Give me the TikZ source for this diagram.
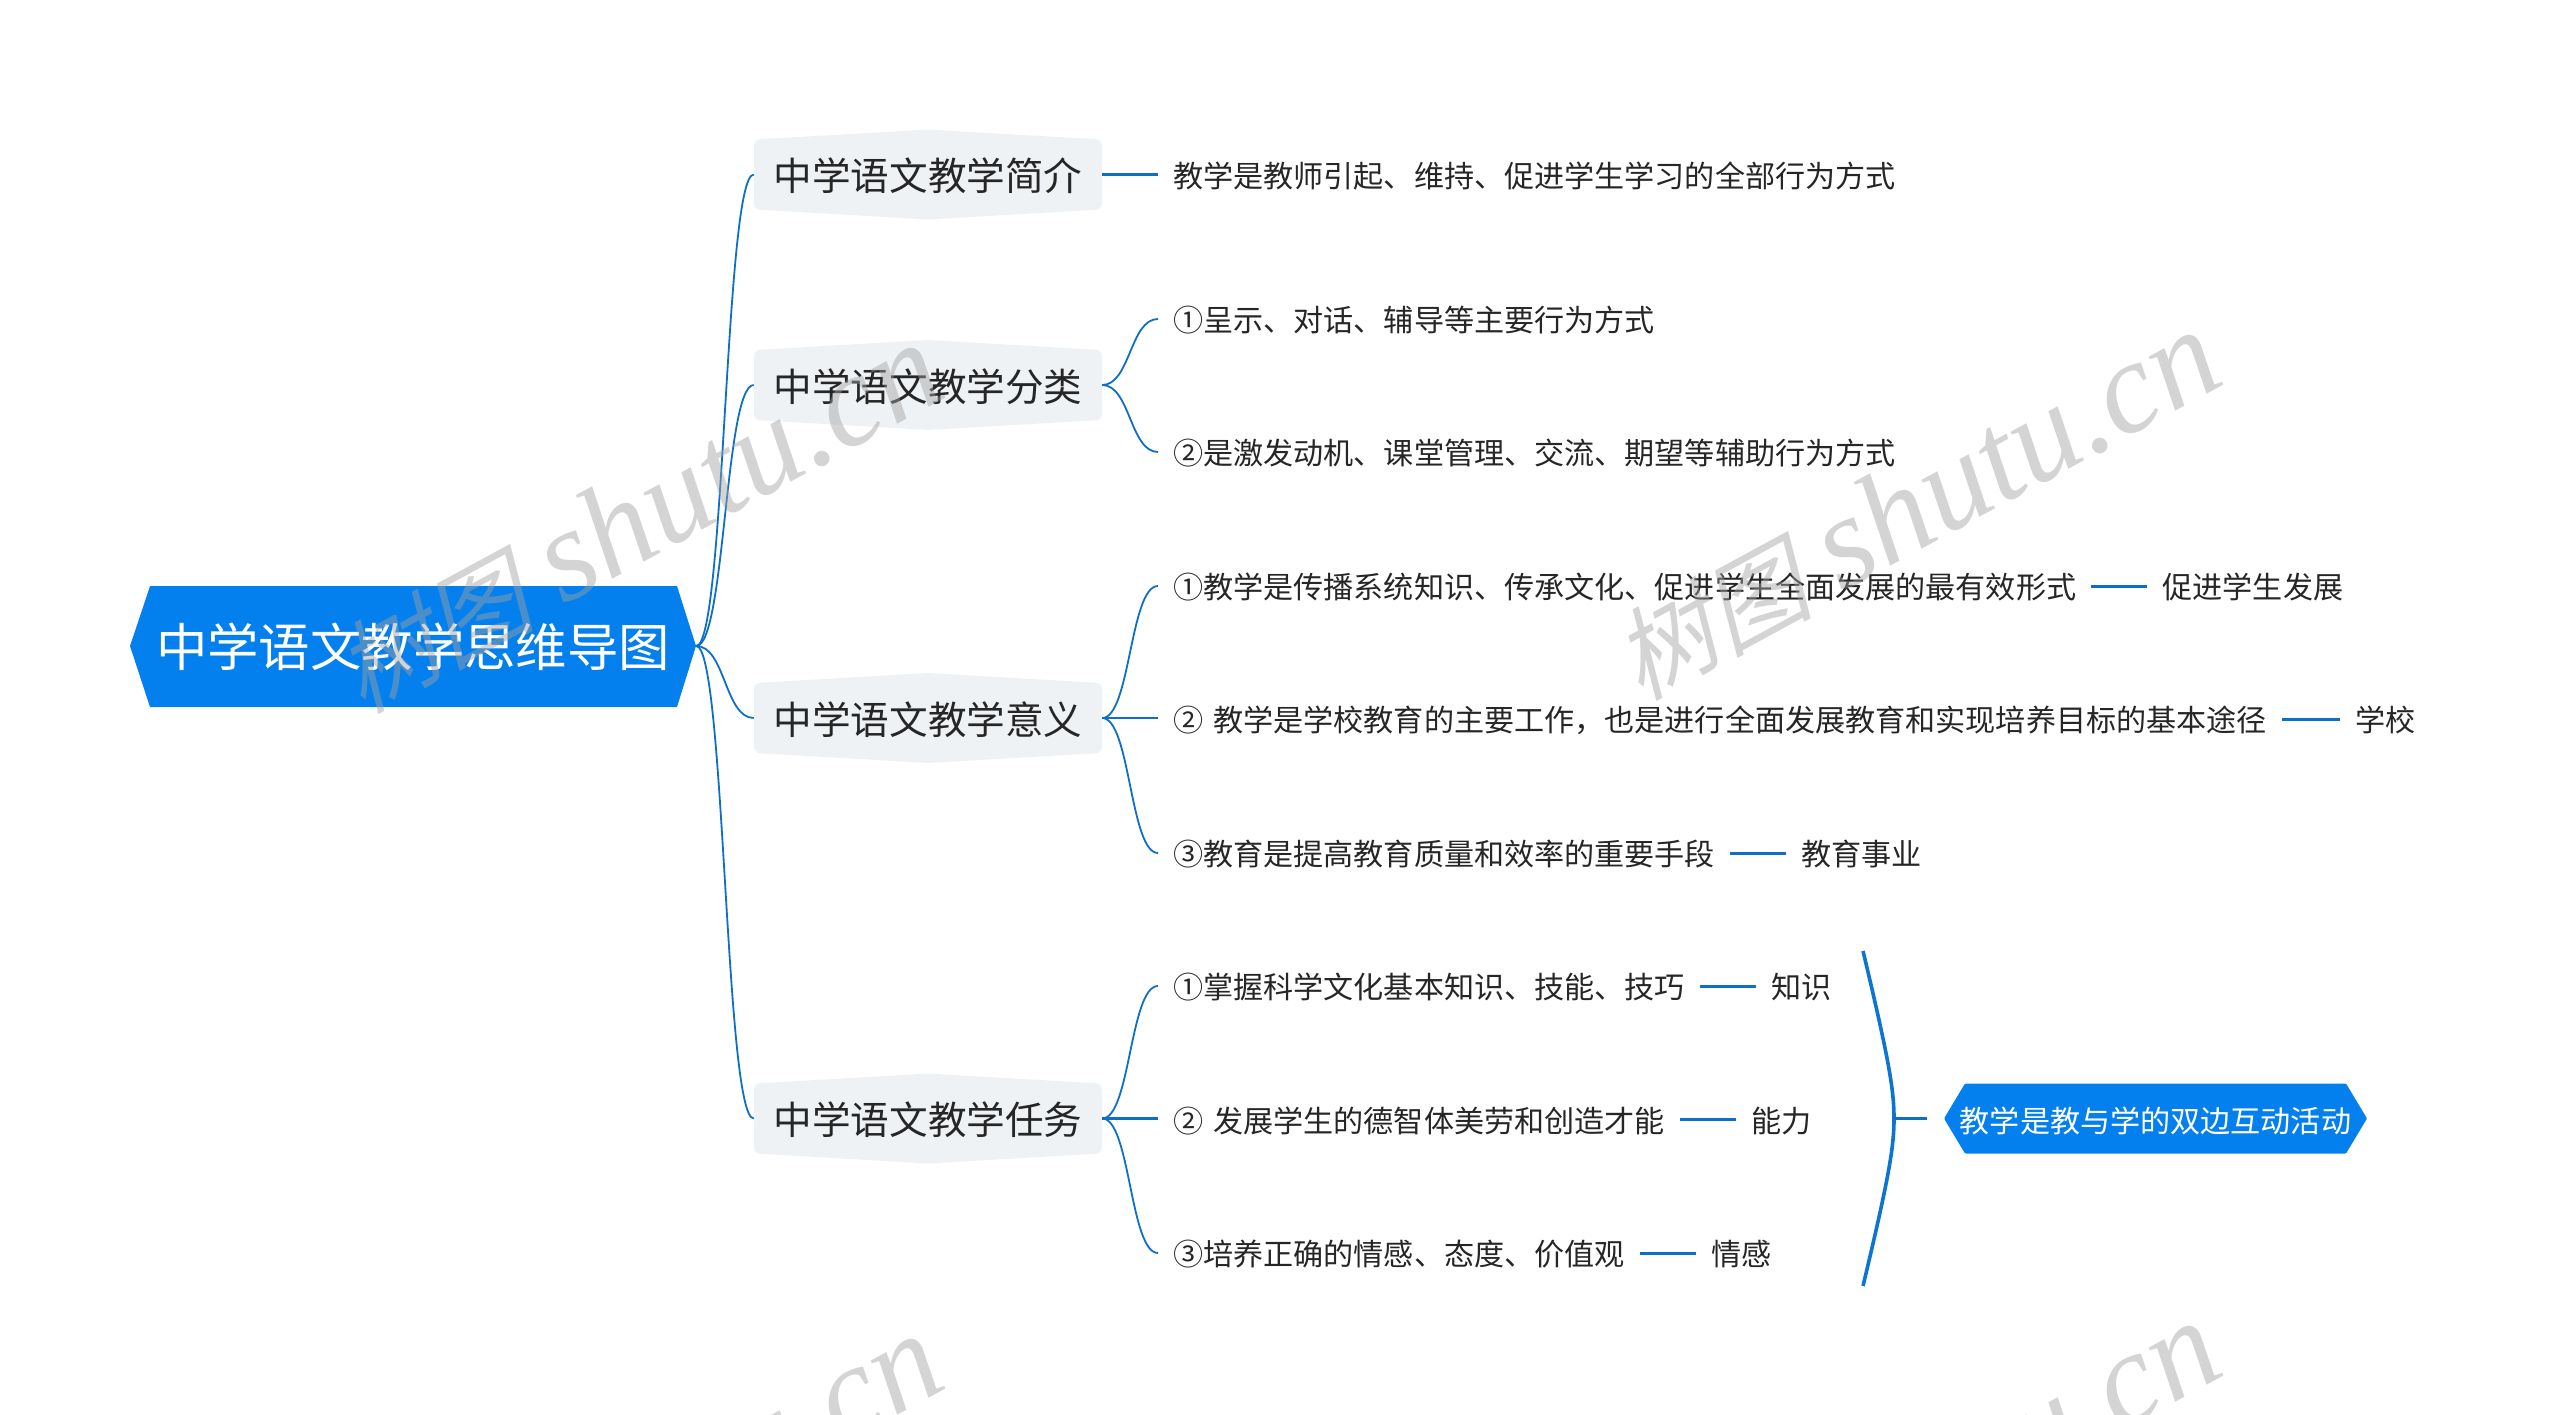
\documentclass[tikz,border=0pt]{standalone}
\usepackage{fontspec}
\setmainfont{Noto Sans CJK SC}
\newfontfamily\wmcjk[FakeSlant=.25]{Noto Sans CJK SC}
\newfontfamily\wmlat{Liberation Serif}
\definecolor{rootblue}{HTML}{0480EE}
\definecolor{linkblue}{HTML}{0F6FC6}
\definecolor{bracelinkc}{HTML}{0C74D2}
\definecolor{topicbg}{HTML}{EFF2F5}
\definecolor{inktext}{HTML}{262626}
\definecolor{wmgray}{HTML}{A0A0A0}
\tikzset{
  rootnode/.style={inner sep=0pt,minimum width=566pt,minimum height=120pt,text=white,text height=47pt,text depth=6pt,font=\fontsize{51.4}{60}\selectfont},
  topicnode/.style={inner sep=0pt,minimum width=348pt,minimum height=70pt,text=inktext,text height=37pt,text depth=4.6pt,font=\fontsize{38.6}{46}\selectfont},
  subnode/.style={anchor=west,inner xsep=15pt,inner ysep=0pt,text=inktext,text height=29.5pt,text depth=3.6pt,font=\fontsize{30.1}{36}\selectfont},
  notenode/.style={inner sep=0pt,minimum width=423pt,minimum height=70pt,text=white,text height=29.5pt,text depth=3.6pt,font=\fontsize{30.1}{36}\selectfont},
  thinlink/.style={draw=linkblue,line width=1.8pt},
  sublink/.style={draw=linkblue,line width=2.4pt},
  bracelink/.style={draw=bracelinkc,line width=3.6pt},
  watermark/.style={anchor=base west,rotate=28.5,text=wmgray,opacity=.45,inner sep=0pt,font=\fontsize{131}{150}\selectfont},
}
\newcommand{\topichex}[1]{\fill[topicbg,rounded corners=6pt] (754,#1-35) -- (928,#1-45) -- (1102,#1-35) -- (1102,#1+35) -- (928,#1+45) -- (754,#1+35) -- cycle;}
\newcommand{\wmtext}{{\wmcjk\fontsize{100}{120}\selectfont 树图} {\wmlat\itshape shutu.cn}}
\begin{document}
\begin{tikzpicture}[x=1pt,y=-1pt]
\useasboundingbox (0,0) rectangle (2560,1415);
\clip (0,0) rectangle (2560,1415);
% shapes
\fill[rootblue] (130,646) -- (150,586) -- (677,586) -- (696,646) -- (677,707) -- (150,707) -- cycle;
\topichex{174.5}
\topichex{385}
\topichex{718}
\topichex{1118.5}
\fill[rootblue,rounded corners=1pt] (1944,1118.5) -- (1965,1083.5) -- (2346,1083.5) -- (2367,1118.5) -- (2346,1153.5) -- (1965,1153.5) -- cycle;
% nodes
\node[rootnode] (root) at (413,646) {中学语文教学思维导图};
\node[topicnode] (t1) at (928,174.5) {中学语文教学简介};
\node[topicnode] (t2) at (928,385) {中学语文教学分类};
\node[topicnode] (t3) at (928,718) {中学语文教学意义};
\node[topicnode] (t4) at (928,1118.5) {中学语文教学任务};
\node[subnode] (a1) at (1158,174.5) {教学是教师引起、维持、促进学生学习的全部行为方式};
\node[subnode] (b1) at (1158,319) {①呈示、对话、辅导等主要行为方式};
\node[subnode] (b2) at (1158,452) {②是激发动机、课堂管理、交流、期望等辅助行为方式};
\node[subnode] (c1) at (1158,586) {①教学是传播系统知识、传承文化、促进学生全面发展的最有效形式};
\node[subnode] (c2) at (1158,719) {②\hspace{10pt}教学是学校教育的主要工作，也是进行全面发展教育和实现培养目标的基本途径};
\node[subnode] (c3) at (1158,853) {③教育是提高教育质量和效率的重要手段};
\node[subnode] (d1) at (1158,986) {①掌握科学文化基本知识、技能、技巧};
\node[subnode] (d2) at (1158,1119.5) {②\hspace{10pt}发展学生的德智体美劳和创造才能};
\node[subnode] (d3) at (1158,1253) {③培养正确的情感、态度、价值观};
\node[subnode,anchor=west] (c1x) at ([xshift=56pt]c1.east) {促进学生发展};
\node[subnode,anchor=west] (c2x) at ([xshift=58pt]c2.east) {学校};
\node[subnode,anchor=west] (c3x) at ([xshift=56pt]c3.east) {教育事业};
\node[subnode,anchor=west] (d1x) at ([xshift=56pt]d1.east) {知识};
\node[subnode,anchor=west] (d2x) at ([xshift=56pt]d2.east) {能力};
\node[subnode,anchor=west] (d3x) at ([xshift=56pt]d3.east) {情感};
\node[notenode] (note) at (2155.5,1119.5) {教学是教与学的双边互动活动};
\coordinate (brT) at (1863,951);
\coordinate (brM) at (1894,1118.5);
\coordinate (brB) at (1863,1286);
% connectors
\foreach \n in {t1,t2,t3,t4}{
  \draw[thinlink] (root.east) .. controls ([xshift=29pt]root.east) and ([xshift=-29pt]\n.west) .. (\n.west);
}
\foreach \p/\c in {t2/b1,t2/b2,t3/c1,t3/c3,t4/d1,t4/d3}{
  \draw[sublink,line width=1.8pt] (\p.east) .. controls ([xshift=28pt]\p.east) and ([xshift=-28pt]\c.west) .. (\c.west);
}
\foreach \p/\c in {t1/a1,t3/c2,t4/d2}{
  \draw[sublink] (\p.east) -- (\p.east -| \c.west);
}
\foreach \p/\c in {c1/c1x,c2/c2x,c3/c3x,d1/d1x,d2/d2x,d3/d3x}{
  \draw[sublink,line width=3pt] (\p.east) -- (\c.west);
}
\draw[bracelink] (brT) .. controls (1889,1060) and (1894,1090) .. (brM) .. controls (1894,1147) and (1889,1177) .. (brB);
\draw[sublink,line width=3pt,shorten >=17pt] (brM) -- (brM -| note.west);
% watermark
\node[watermark] (w1) at (362,715) {\wmtext};
\node[watermark] (w2) at (1640,702) {\wmtext};
\node[watermark] (w3) at (362,1706) {\wmtext};
\node[watermark] (w4) at (1640,1693) {\wmtext};
\end{tikzpicture}
\end{document}
